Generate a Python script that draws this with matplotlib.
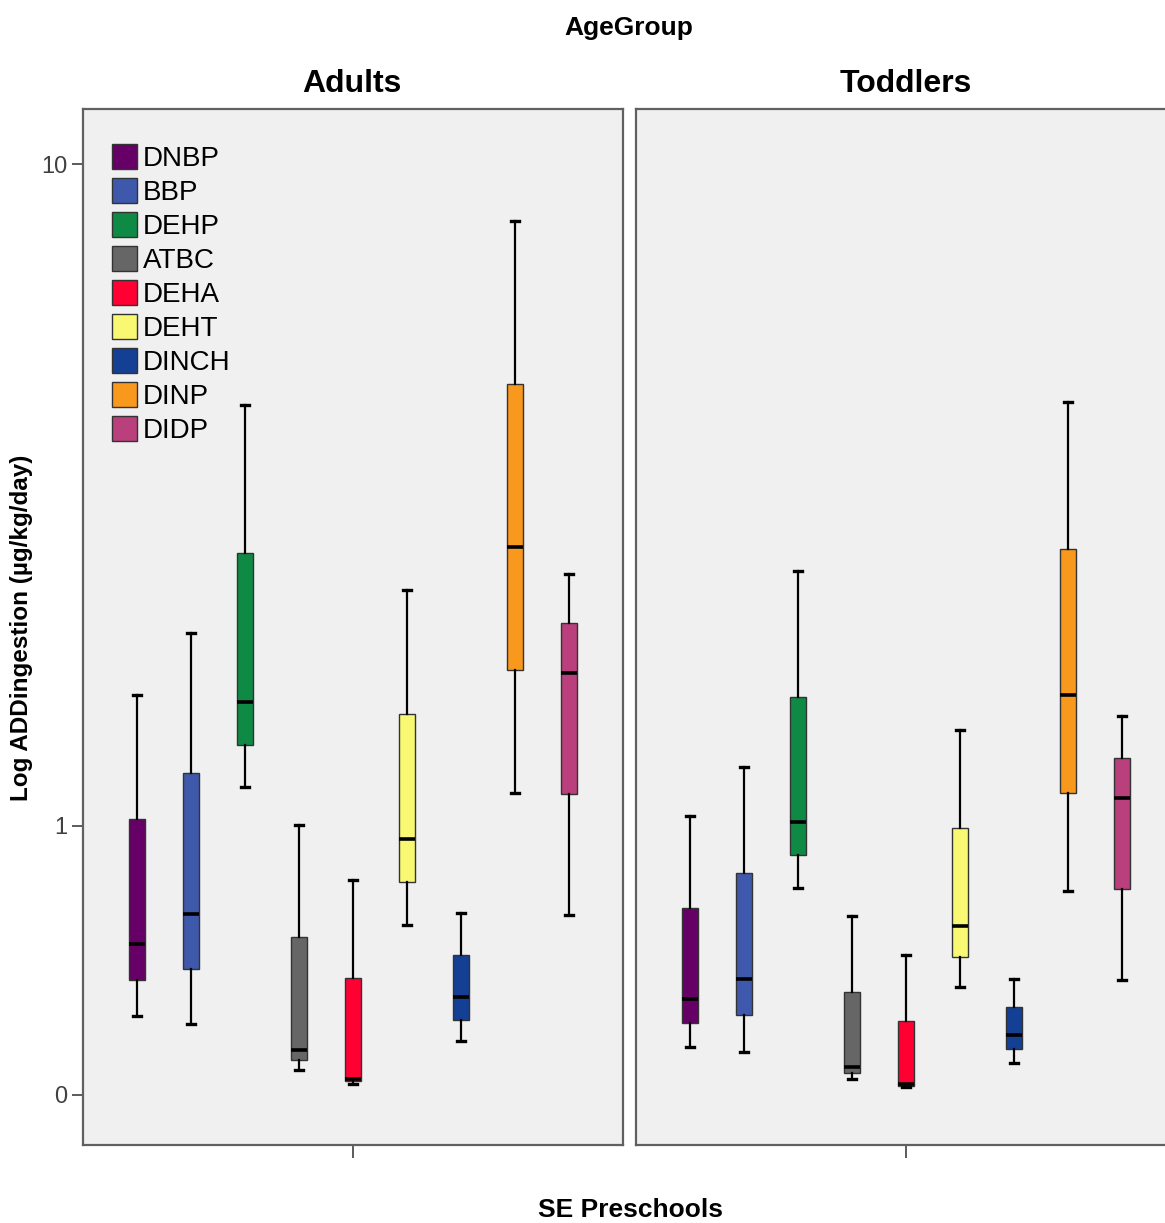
import numpy as np
import matplotlib
matplotlib.use("Agg")
import matplotlib.pyplot as plt
from matplotlib.patches import Patch

plt.rcParams['font.family'] = ['Liberation Sans', 'DejaVu Sans']

# compuestos y colores
compounds = ['DNBP', 'BBP', 'DEHP', 'ATBC', 'DEHA', 'DEHT', 'DINCH', 'DINP', 'DIDP']
colors = ['#660066', '#3e59ac', '#0f8a45', '#666666', '#ff0033',
          '#f9f872', '#133f95', '#f8981d', '#ba3f7d']

# Adults
adults_whislo = [0.227, 0.200, 1.211, 0.067, 0.029, 0.548, 0.148, 1.178, 0.590]
adults_q1 = [0.346, 0.384, 1.467, 0.095, 0.037, 0.731, 0.214, 1.990, 1.173]
adults_med = [0.477, 0.596, 1.754, 0.123, 0.043, 0.932, 0.287, 3.105, 1.964]
adults_q3 = [1.038, 1.292, 3.041, 0.503, 0.350, 1.667, 0.433, 5.247, 2.372]
adults_whishi = [1.806, 2.287, 4.918, 1.007, 0.742, 2.672, 0.597, 8.515, 2.832]

# Toddlers
toddlers_whislo = [0.132, 0.118, 0.705, 0.041, 0.021, 0.321, 0.087, 0.690, 0.345]
toddlers_q1 = [0.203, 0.229, 0.856, 0.058, 0.023, 0.428, 0.126, 1.175, 0.700]
toddlers_med = [0.281, 0.348, 1.020, 0.074, 0.029, 0.545, 0.167, 1.802, 1.150]
toddlers_q3 = [0.620, 0.770, 1.785, 0.303, 0.211, 0.990, 0.254, 3.087, 1.382]
toddlers_whishi = [1.050, 1.329, 2.858, 0.587, 0.433, 1.564, 0.348, 4.967, 1.657]

groups = [
    ('Adults', adults_whislo, adults_q1, adults_med, adults_q3, adults_whishi),
    ('Toddlers', toddlers_whislo, toddlers_q1, toddlers_med, toddlers_q3, toddlers_whishi),
]


def fwd(y):
    return np.log10(1 + np.asarray(y, dtype=float))


def inv(t):
    return 10 ** np.asarray(t, dtype=float) - 1


W, H = 1165, 1223
fig = plt.figure(figsize=(W / 100, H / 100), dpi=100)

ax_w = 540 / W
ax_b = (H - 1145) / H
ax_h = (1145 - 109) / H
lefts = [83 / W, 636 / W]
centers = [352, 906]

for i, (name, lo, q1, med, q3, hi) in enumerate(groups):
    ax = fig.add_axes([lefts[i], ax_b, ax_w, ax_h])
    ax.set_facecolor('#f0f0f0')
    ax.set_yscale('function', functions=(fwd, inv))
    stats = []
    for k in range(len(compounds)):
        stats.append(dict(whislo=lo[k], q1=q1[k], med=med[k], q3=q3[k],
                          whishi=hi[k], fliers=[]))
    pos = np.arange(len(compounds))
    bp = ax.bxp(stats, positions=pos, widths=0.28, patch_artist=True,
                showfliers=False, manage_ticks=False, capwidths=0.14,
                boxprops=dict(edgecolor='#333333', linewidth=1.0),
                whiskerprops=dict(color='black', linewidth=1.6),
                capprops=dict(color='black', linewidth=2.4),
                medianprops=dict(color='black', linewidth=2.6))
    for patch, c in zip(bp['boxes'], colors):
        patch.set_facecolor(c)
    ax.set_xlim(-1, 9)
    ax.set_ylim(-0.121, 11.69)
    ax.set_xticks([4])
    ax.set_xticklabels([])
    ax.tick_params(axis='x', length=9, width=1.2, color='#404040', direction='out')
    if i == 0:
        ax.set_yticks([0, 1, 10])
        ax.set_yticklabels(['0', '1', '10'])
        ax.tick_params(axis='y', length=8, width=1.2, color='#404040',
                       labelsize=17, labelcolor='#404040', pad=3)
        ax.yaxis.set_minor_locator(matplotlib.ticker.NullLocator())
        handles = [Patch(facecolor=c, edgecolor='#333333', linewidth=1.0, label=n)
                   for c, n in zip(colors, compounds)]
        ax.legend(handles=handles, loc='upper left', bbox_to_anchor=(0.0537, 0.966),
                  frameon=False, fontsize=20, handlelength=0.9, handleheight=1.0,
                  handletextpad=0.2, labelspacing=0.217, borderpad=0, borderaxespad=0)
    else:
        ax.set_yticks([])
        ax.yaxis.set_minor_locator(matplotlib.ticker.NullLocator())
        ax.tick_params(axis='y', left=False, labelleft=False)
    for sp in ax.spines.values():
        sp.set_color('#606060')
        sp.set_linewidth(1.6)
    fig.text(centers[i] / W, 1 - 84 / H, name, ha='center', va='center',
             fontsize=23, fontweight='bold')

fig.text(629 / W, 1 - 28 / H, 'AgeGroup', ha='center', va='center',
         fontsize=19, fontweight='bold')
fig.text(630 / W, 1 - 1210 / H, 'SE Preschools', ha='center', va='center',
         fontsize=19, fontweight='bold')
fig.text(22 / W, 1 - 628 / H, 'Log ADDingestion (µg/kg/day)', ha='center',
         va='center', rotation=90, fontsize=17.5, fontweight='bold')

fig.savefig('out.png', dpi=100, facecolor='white')
